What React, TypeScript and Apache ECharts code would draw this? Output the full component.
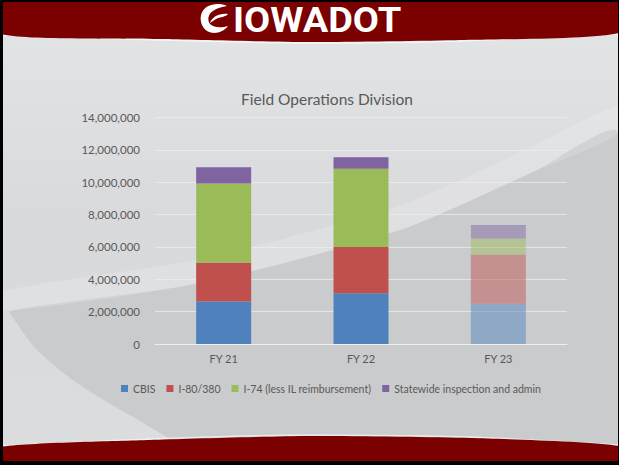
import React, { useEffect, useRef } from "react";
import * as echarts from "echarts";

const categories = ["FY 21", "FY 22", "FY 23"];
const seriesNames = [
  "CBIS",
  "I-80/380",
  "I-74 (less IL reimbursement)",
  "Statewide inspection and admin",
];
const cbis = [2620000, 3140000, 2490000];
const i80 = [2410000, 2860000, 3020000];
const i74 = [4890000, 4830000, 1010000];
const statewide = [1010000, 720000, 840000];
const yTicks = { min: 0, max: 14000000, interval: 2000000 };
const fadedCategory = "FY 23";

const colors = ["#4F81BD", "#C0504D", "#9BBB59", "#8064A2"];

const swirl =
  "M28 3 C19 -1 5 1 2 12 C0 21 6 30 15 30 C21 30 26 27 29 23 C23 25 15 25 11 21 C8 17 9 11 14 8 C18 5 23 4 28 3 Z M11 20 C13 14 20 10 29 11 C27 14 21 14 17 16 C15 17 13 19 11 20 Z";

export default function App() {
  const ref = useRef<HTMLDivElement>(null);
  useEffect(() => {
    if (!ref.current) return;
    echarts.graphic.registerShape("logo", echarts.graphic.extendPath(swirl, {}));
    const chart = echarts.init(ref.current, null, { renderer: "svg" });
    const allSeries = [cbis, i80, i74, statewide].map((vals, si) => ({
      name: seriesNames[si],
      type: "bar",
      stack: "total",
      barWidth: 55,
      itemStyle: { color: colors[si] },
      data: vals.map((v, i) =>
        categories[i] === fadedCategory ? { value: v, itemStyle: { opacity: 0.48 } } : v
      ),
    }));
    const font = "Lato, 'Open Sans', sans-serif";
    chart.setOption({
      animation: false,
      backgroundColor: "#d4d5d7",
      title: {
        text: "Field Operations Division",
        left: 322,
        top: 86,
        textAlign: "center",
        textStyle: { fontFamily: font, fontSize: 15.5, fontWeight: "normal", color: "#595959" },
      },
      legend: {
        left: 116,
        top: 378,
        itemWidth: 7,
        itemHeight: 7,
        itemGap: 11,
        icon: "rect",
        textStyle: { fontFamily: font, fontSize: 10.5, color: "#595959" },
        data: seriesNames,
      },
      grid: { left: 155, right: 52, top: 117.5, bottom: 121, containLabel: false },
      xAxis: {
        type: "category",
        data: categories,
        axisTick: { show: false },
        axisLine: { lineStyle: { color: "rgba(238,238,238,0.9)" } },
        axisLabel: { fontFamily: font, fontSize: 11, color: "#595959", margin: 9 },
      },
      yAxis: {
        type: "value",
        min: yTicks.min,
        max: yTicks.max,
        interval: yTicks.interval,
        axisLabel: {
          fontFamily: font,
          fontSize: 11.5,
          color: "#595959",
          margin: 15,
          formatter: (v: number) => v.toLocaleString("en-US"),
        },
        splitLine: { lineStyle: { color: "rgba(238,238,238,0.75)" } },
      },
      graphic: [
        {
          type: "rect",
          z: -10,
          shape: { x: 0, y: 0, width: 619, height: 465 },
          style: {
            fill: new echarts.graphic.LinearGradient(0, 0, 0, 1, [
              { offset: 0, color: "#e4e5e7" },
              { offset: 0.5, color: "#d8d9db" },
              { offset: 1, color: "#dcdddf" },
            ]),
          },
        },
        {
          type: "polygon",
          z: -9,
          shape: {
            points: [
              [10, 311],
              [200, 283],
              [400, 230],
              [533, 172],
              [619, 133],
              [619, 445],
              [190, 445],
              [133, 417],
              [77, 383],
              [37, 350],
              [16, 322],
            ],
            smooth: 0.25,
          },
          style: { fill: "#cacbcd" },
        },
        {
          type: "polygon",
          z: -8,
          shape: {
            points: [
              [0, 311],
              [200, 283],
              [400, 230],
              [533, 172],
              [619, 133],
              [619, 106],
              [533, 146],
              [400, 205],
              [200, 259],
              [0, 292],
            ],
            smooth: 0.25,
          },
          style: { fill: "rgba(255,255,255,0.16)" },
        },
        // header band
        {
          type: "polygon",
          z: 50,
          shape: {
            points: [
              [0, 0],
              [619, 0],
              [619, 33],
              [460, 40],
              [310, 42],
              [160, 39],
              [0, 34],
            ],
            smooth: 0.2,
          },
          style: { fill: "#7b0000" },
        },
        {
          type: "polyline",
          z: 49,
          shape: {
            points: [
              [0, 35],
              [160, 40],
              [310, 43],
              [460, 41],
              [619, 34],
            ],
            smooth: 0.2,
          },
          style: { stroke: "rgba(255,255,255,0.7)", lineWidth: 1.5, fill: null },
        },
        // bottom band
        {
          type: "polygon",
          z: 50,
          shape: {
            points: [
              [0, 447],
              [150, 440],
              [310, 436],
              [470, 438],
              [619, 446],
              [619, 465],
              [0, 465],
            ],
            smooth: 0.2,
          },
          style: { fill: "#7b0000" },
        },
        {
          type: "polyline",
          z: 49,
          shape: {
            points: [
              [0, 446],
              [150, 439],
              [310, 435],
              [470, 437],
              [619, 445],
            ],
            smooth: 0.2,
          },
          style: { stroke: "rgba(255,255,255,0.6)", lineWidth: 1.5, fill: null },
        },
        // logo
        {
          type: "logo",
          z: 60,
          x: 199,
          y: 3,
          style: { fill: "#ffffff" },
        },
        {
          type: "text",
          z: 60,
          x: 233,
          y: 20.5,
          scaleX: 1.085,
          style: {
            text: "IOWADOT",
            fill: "#ffffff",
            fontFamily: "Roboto, 'DejaVu Sans', sans-serif",
            fontWeight: "bold",
            fontSize: 35,
            textAlign: "left",
            textVerticalAlign: "middle",
          },
        },
        // black frame
        { type: "rect", z: 70, shape: { x: 0, y: 0, width: 619, height: 2 }, style: { fill: "#000" } },
        { type: "rect", z: 70, shape: { x: 0, y: 0, width: 3, height: 465 }, style: { fill: "#000" } },
        { type: "rect", z: 70, shape: { x: 0, y: 461, width: 619, height: 4 }, style: { fill: "#000" } },
        { type: "rect", z: 70, shape: { x: 618, y: 0, width: 1, height: 465 }, style: { fill: "#000" } },
      ],
      series: allSeries,
    });
    return () => chart.dispose();
  }, []);
  return (
    <div
      ref={ref}
      style={{ position: "fixed", left: 0, top: 0, width: 619, height: 465 }}
    />
  );
}
